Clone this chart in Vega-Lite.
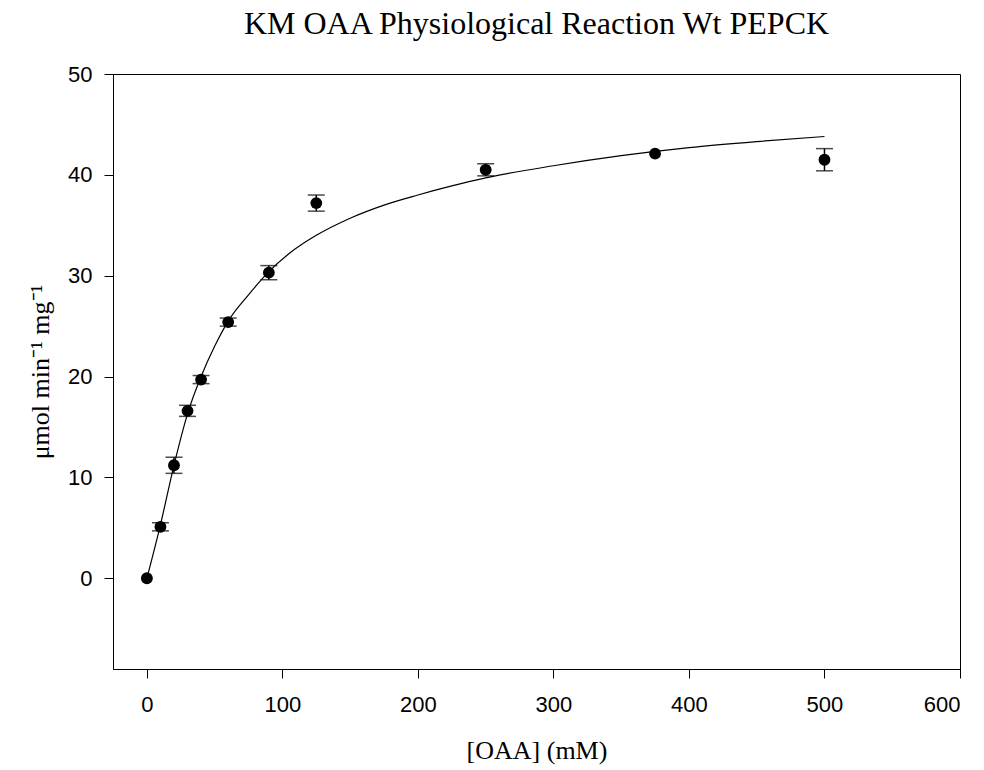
{
  "$schema": "https://vega.github.io/schema/vega-lite/v6.json",
  "width": 847,
  "height": 595,
  "autosize": {"type": "none"},
  "padding": {"left": 113, "top": 74, "right": 24, "bottom": 101},
  "background": "white",
  "title": {
    "text": "KM OAA Physiological Reaction Wt PEPCK",
    "font": "Liberation Serif",
    "fontSize": 32,
    "fontWeight": "normal",
    "color": "black",
    "anchor": "middle",
    "offset": 22
  },
  "config": {
    "view": {"stroke": "black", "strokeWidth": 1},
    "axis": {
      "grid": false,
      "domainColor": "black",
      "domainWidth": 1,
      "tickColor": "black",
      "tickSize": 9,
      "tickWidth": 1,
      "labelFont": "Liberation Sans",
      "labelFontSize": 22,
      "labelColor": "black",
      "titleFont": "Liberation Serif",
      "titleFontSize": 26,
      "titleFontWeight": "normal",
      "titleColor": "black"
    }
  },
  "datasets": {
    "pts": [
      {"oaa": 0, "v": 0, "lo": null, "hi": null},
      {"oaa": 10, "v": 5.1, "lo": 4.7, "hi": 5.5},
      {"oaa": 20, "v": 11.2, "lo": 10.4, "hi": 12.0},
      {"oaa": 30, "v": 16.6, "lo": 16.05, "hi": 17.15},
      {"oaa": 40, "v": 19.7, "lo": 19.3, "hi": 20.1},
      {"oaa": 60, "v": 25.4, "lo": 25.0, "hi": 25.8},
      {"oaa": 90, "v": 30.3, "lo": 29.6, "hi": 31.0},
      {"oaa": 125, "v": 37.2, "lo": 36.4, "hi": 38.0},
      {"oaa": 250, "v": 40.5, "lo": 39.9, "hi": 41.1},
      {"oaa": 375, "v": 42.1, "lo": null, "hi": null},
      {"oaa": 500, "v": 41.5, "lo": 40.4, "hi": 42.6}
    ],
    "fit": [
      {"oaa": 0, "v": 0},
      {"oaa": 10, "v": 5.3},
      {"oaa": 20, "v": 11.2},
      {"oaa": 30, "v": 16.3},
      {"oaa": 40, "v": 20.0},
      {"oaa": 50, "v": 23.0},
      {"oaa": 60, "v": 25.5},
      {"oaa": 75, "v": 28.1},
      {"oaa": 90, "v": 30.4},
      {"oaa": 105, "v": 32.2},
      {"oaa": 125, "v": 34.0},
      {"oaa": 150, "v": 35.7},
      {"oaa": 175, "v": 37.0},
      {"oaa": 200, "v": 38.0},
      {"oaa": 225, "v": 38.9},
      {"oaa": 250, "v": 39.7},
      {"oaa": 300, "v": 40.9},
      {"oaa": 350, "v": 41.9},
      {"oaa": 400, "v": 42.7},
      {"oaa": 450, "v": 43.3},
      {"oaa": 500, "v": 43.8}
    ]
  },
  "encoding": {
    "x": {
      "field": "oaa",
      "type": "quantitative",
      "scale": {"domain": [-25, 600], "nice": false, "zero": false},
      "axis": {"values": [0, 100, 200, 300, 400, 500, 600], "title": "[OAA] (mM)", "labelPadding": 16, "titlePadding": 22}
    },
    "y": {
      "field": "v",
      "type": "quantitative",
      "scale": {"domain": [-9, 50], "nice": false, "zero": false},
      "axis": {"values": [0, 10, 20, 30, 40, 50], "title": "μmol min⁻¹ mg⁻¹", "labelPadding": 12, "titlePadding": 14}
    }
  },
  "layer": [
    {
      "data": {"name": "fit"},
      "mark": {"type": "line", "color": "black", "strokeWidth": 1.2, "interpolate": "monotone"},
      "encoding": {}
    },
    {
      "data": {"name": "pts"},
      "mark": {"type": "rule", "color": "black", "strokeWidth": 1.5},
      "encoding": {"y": {"field": "lo", "type": "quantitative"}, "y2": {"field": "hi"}}
    },
    {
      "data": {"name": "pts"},
      "mark": {"type": "tick", "color": "black", "orient": "horizontal", "size": 17, "thickness": 1.5},
      "encoding": {"y": {"field": "lo", "type": "quantitative"}}
    },
    {
      "data": {"name": "pts"},
      "mark": {"type": "tick", "color": "black", "orient": "horizontal", "size": 17, "thickness": 1.5},
      "encoding": {"y": {"field": "hi", "type": "quantitative"}}
    },
    {
      "data": {"name": "pts"},
      "mark": {"type": "point", "shape": "circle", "filled": true, "color": "black", "opacity": 1, "size": 140},
      "encoding": {}
    }
  ]
}
